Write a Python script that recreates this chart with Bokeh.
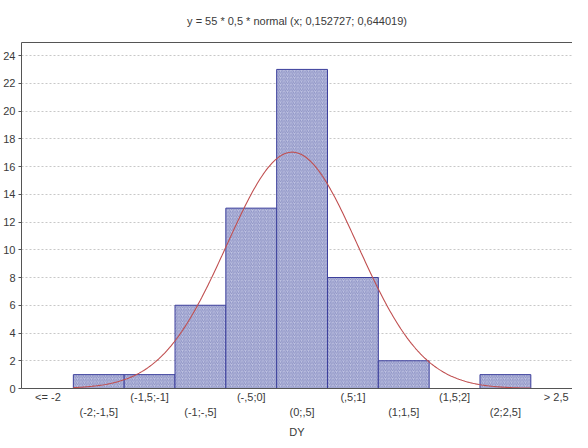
import numpy as np
from bokeh.plotting import figure
from bokeh.models import Range1d, FixedTicker, LinearAxis, ColumnDataSource
from bokeh.embed import file_html
from bokeh.resources import INLINE

# ---- data ----
categories = ["<= -2", "(-2;-1,5]", "(-1,5;-1]", "(-1;-,5]", "(-,5;0]", "(0;,5]",
              "(,5;1]", "(1;1,5]", "(1,5;2]", "(2;2,5]", "> 2,5"]
counts = [0, 1, 1, 6, 13, 23, 8, 2, 0, 1, 0]
bin_lower = [-2.5, -2.0, -1.5, -1.0, -0.5, 0.0, 0.5, 1.0, 1.5, 2.0, 2.5]
bin_width = 0.5
n_obs = 55
mu = 0.152727
sigma = 0.644019
y_ticks = [0, 2, 4, 6, 8, 10, 12, 14, 16, 18, 20, 22, 24]

centers = [b + bin_width / 2 for b in bin_lower]

FONT = "Liberation Sans"
TXT = "#3a3a3a"

p = figure(width=572, height=440, output_backend="svg", toolbar_location=None,
           x_range=Range1d(-2.51, 2.91), y_range=Range1d(0, 24.94),
           min_border_left=19, min_border_right=0, min_border_top=10,
           min_border_bottom=0,
           title="y = 55 * 0,5 * normal (x; 0,152727; 0,644019)")
p.title.align = "center"
p.title.text_font = FONT
p.title.text_font_size = "11px"
p.title.text_font_style = "normal"
p.title.text_color = TXT
p.title.standoff = 28
p.title.vertical_align = "top"
p.outline_line_color = None
p.background_fill_color = "white"

# bars
src = ColumnDataSource(dict(x=centers, top=counts))
p.vbar(x="x", top="top", width=bin_width, bottom=0, source=src,
       fill_color="#bec2e1", line_color="#3c3f9c", line_width=1,
       hatch_pattern="/", hatch_color="#6a6fb0", hatch_scale=3.5, hatch_weight=0.6)

# fitted normal curve (from the title's parameters)
xs = np.linspace(bin_lower[1], bin_lower[-1], 300)
ys = n_obs * bin_width * np.exp(-0.5 * ((xs - mu) / sigma) ** 2) / (sigma * np.sqrt(2 * np.pi))
p.line(xs, ys, line_color="#c04f50", line_width=1.1)

# axes
p.xaxis.visible = False
p.xgrid.visible = False
p.ygrid.grid_line_color = "#c8c8c8"
p.ygrid.grid_line_dash = "2 2"
p.ygrid.ticker = FixedTicker(ticks=y_ticks)

ya = p.yaxis[0]
ya.ticker = FixedTicker(ticks=y_ticks)
ya.axis_line_color = "#555555"
ya.major_tick_line_color = "#555555"
ya.major_tick_out = 3
ya.major_tick_in = 0
ya.minor_tick_line_color = None
ya.major_label_standoff = 3
ya.major_label_text_font = FONT
ya.major_label_text_font_size = "11px"
ya.major_label_text_color = TXT

even_over = {}
odd_over = {}
for i, (c, lab) in enumerate(zip(centers, categories)):
    if i % 2 == 0:
        even_over[c] = lab
        odd_over[c] = ""
    else:
        even_over[c] = ""
        odd_over[c] = lab

ax1 = LinearAxis(ticker=FixedTicker(ticks=centers), major_label_overrides=even_over)
ax1.axis_line_color = "#555555"
ax1.major_tick_line_color = None
ax1.major_tick_out = 0
ax1.major_tick_in = 0
ax1.minor_tick_line_color = None
ax1.minor_tick_out = 0
ax1.major_label_standoff = 2
ax1.major_label_text_font = FONT
ax1.major_label_text_font_size = "11px"
ax1.major_label_text_color = TXT
p.add_layout(ax1, "below")

ax2 = LinearAxis(ticker=FixedTicker(ticks=centers), major_label_overrides=odd_over,
                 axis_label="DY")
ax2.axis_line_color = None
ax2.major_tick_line_color = None
ax2.major_tick_out = 0
ax2.major_tick_in = 0
ax2.minor_tick_line_color = None
ax2.minor_tick_out = 0
ax2.major_label_standoff = 0
ax2.major_label_text_font = FONT
ax2.major_label_text_font_size = "11px"
ax2.major_label_text_color = TXT
ax2.axis_label_text_font = FONT
ax2.axis_label_text_font_size = "11px"
ax2.axis_label_text_font_style = "normal"
ax2.axis_label_text_color = TXT
ax2.axis_label_standoff = 5
p.add_layout(ax2, "below")

top = LinearAxis(ticker=FixedTicker(ticks=[]))
top.axis_line_color = "#555555"
top.major_tick_line_color = None
top.minor_tick_line_color = None
top.major_tick_out = 0
top.major_label_text_font_size = "0px"
p.add_layout(top, "above")

open("out.html", "w").write(file_html(p, INLINE))
